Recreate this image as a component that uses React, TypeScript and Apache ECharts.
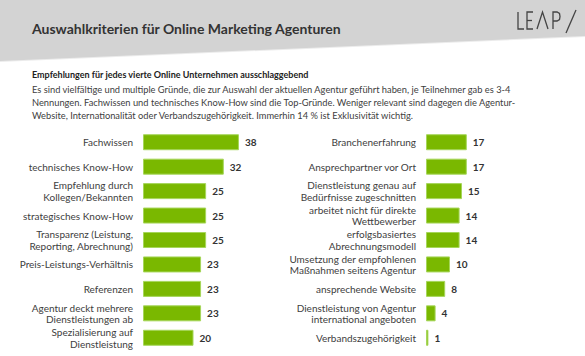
import React, { useEffect, useRef } from "react";
import * as echarts from "echarts";

const leftCategories = [
  "Fachwissen",
  "technisches Know-How",
  "Empfehlung durch\nKollegen/Bekannten",
  "strategisches Know-How",
  "Transparenz (Leistung,\nReporting, Abrechnung)",
  "Preis-Leistungs-Verhältnis",
  "Referenzen",
  "Agentur deckt mehrere\nDienstleistungen ab",
  "Spezialisierung auf\nDienstleistung",
];
const leftValues = [38, 32, 25, 25, 25, 23, 23, 23, 20];

const rightCategories = [
  "Branchenerfahrung",
  "Ansprechpartner vor Ort",
  "Dienstleistung genau auf\nBedürfnisse zugeschnitten",
  "arbeitet nicht für direkte\nWettbewerber",
  "erfolgsbasiertes\nAbrechnungsmodell",
  "Umsetzung der empfohlenen\nMaßnahmen seitens Agentur",
  "ansprechende Website",
  "Dienstleistung von Agentur\ninternational angeboten",
  "Verbandszugehörigkeit",
];
const rightValues = [17, 17, 15, 14, 14, 10, 8, 4, 1];

const titleText = "Auswahlkriterien für Online Marketing Agenturen";
const subtitleText = "Empfehlungen für jedes vierte Online Unternehmen ausschlaggebend";
const paragraphLines = [
  "Es sind vielfältige und multiple Gründe, die zur Auswahl der aktuellen Agentur geführt haben, je Teilnehmer gab es 3-4",
  "Nennungen. Fachwissen und technisches Know-How sind die Top-Gründe. Weniger relevant sind dagegen die Agentur-",
  "Website, Internationalität oder Verbandszugehörigkeit. Immerhin 14 % ist Exklusivität wichtig.",
];

const FONT = "Lato, 'Open Sans', sans-serif";
const GREEN = "#7ab800";

export default function App() {
  const ref = useRef<HTMLDivElement>(null);
  useEffect(() => {
    document.body.style.margin = "0";
    if (!ref.current) return;
    const chart = echarts.init(ref.current, null, { renderer: "svg" });
    const stroke = { stroke: "#444", lineWidth: 1.3, fill: "none" };
    const barSeries = (idx: number, data: number[]) => ({
      type: "bar",
      xAxisIndex: idx,
      yAxisIndex: idx,
      data,
      barWidth: 16,
      itemStyle: { color: GREEN, borderColor: "#a6d65a", borderWidth: 1 },
      label: {
        show: true,
        position: "right",
        distance: 6,
        fontFamily: FONT,
        fontWeight: "bold",
        fontSize: 10,
        color: "#333",
      },
    });
    const yAxis = (idx: number, cats: string[]) => ({
      type: "category",
      gridIndex: idx,
      data: cats,
      inverse: true,
      axisLine: { show: false },
      axisTick: { show: false },
      splitLine: { show: false },
      axisLabel: {
        fontFamily: FONT,
        fontSize: 10,
        color: "#404040",
        lineHeight: 11.5,
        margin: 10,
        align: "right",
      },
    });
    const xAxis = (idx: number) => ({
      type: "value",
      gridIndex: idx,
      min: 0,
      max: 40,
      show: false,
      splitLine: { show: false },
    });
    chart.setOption({
      animation: false,
      backgroundColor: "#ffffff",
      grid: [
        { left: 143, top: 130, width: 101, height: 220 },
        { left: 426, top: 130, width: 96, height: 220 },
      ],
      xAxis: [xAxis(0), xAxis(1)],
      yAxis: [yAxis(0, leftCategories), yAxis(1, rightCategories)],
      series: [barSeries(0, leftValues), barSeries(1, rightValues)],
      graphic: [
        {
          type: "polygon",
          z: -1,
          shape: { points: [[0, 0], [585, 0], [585, 37], [0, 62]] },
          style: { fill: "#ececec" },
        },
        {
          type: "polygon",
          z: -1,
          shape: { points: [[0, 0], [585, 0], [585, 36], [0, 61]] },
          style: { fill: "#d3d3d3" },
        },
        {
          type: "text",
          x: 32,
          y: 28,
          style: {
            text: titleText,
            fontFamily: FONT,
            fontWeight: "bold",
            fontSize: 14,
            fill: "#333",
            verticalAlign: "middle",
          },
        },
        { type: "polyline", shape: { points: [[518, 12], [518, 29], [524, 29]] }, style: stroke },
        { type: "polyline", shape: { points: [[533, 12], [527, 12], [527, 29], [533, 29]] }, style: stroke },
        { type: "line", shape: { x1: 527, y1: 20.5, x2: 532, y2: 20.5 }, style: stroke },
        { type: "polyline", shape: { points: [[537, 29], [542.5, 12], [548, 29]] }, style: stroke },
        {
          type: "polyline",
          shape: { points: [[553, 29], [553, 12], [557, 12], [559.5, 13.5], [560, 16.5], [559.5, 19.5], [557, 21], [553, 21]] },
          style: stroke,
        },
        { type: "line", shape: { x1: 576, y1: 10, x2: 566, y2: 33 }, style: stroke },
        {
          type: "text",
          x: 32,
          y: 74,
          style: {
            text: subtitleText,
            fontFamily: FONT,
            fontWeight: "bold",
            fontSize: 9,
            fill: "#222",
            verticalAlign: "middle",
          },
        },
        ...paragraphLines.map((t, i) => ({
          type: "text",
          x: 32,
          y: 89.5 + i * 13,
          style: {
            text: t,
            fontFamily: FONT,
            fontSize: 9.3,
            fill: "#404040",
            verticalAlign: "middle",
          },
        })),
      ],
    });
    return () => chart.dispose();
  }, []);
  return <div ref={ref} style={{ width: 585, height: 356 }} />;
}
